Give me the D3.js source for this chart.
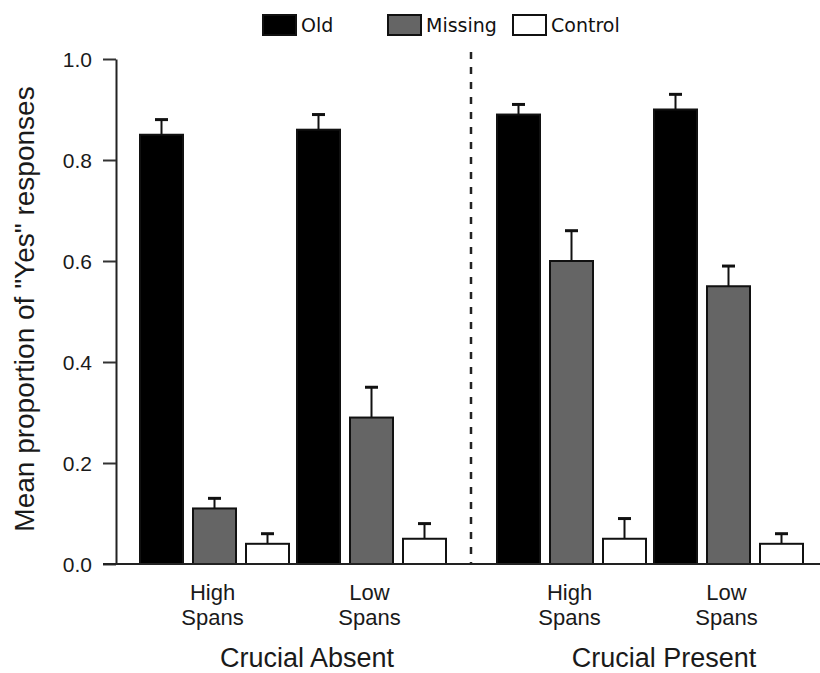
<!DOCTYPE html>
<html><head><meta charset="utf-8">
<script src="https://cdn.jsdelivr.net/npm/d3@7"></script>
<style>body{margin:0;background:#fff}svg{display:block}</style>
</head><body>
<script>
const conditions = ["Crucial Absent", "Crucial Present"];
const spans = ["High Spans", "Low Spans"];
const series = ["Old", "Missing", "Control"];
const colors = ["#000000", "#656565", "#ffffff"];
// order: Absent-High, Absent-Low, Present-High, Present-Low
const oldValues     = [0.85, 0.86, 0.89, 0.90];
const missingValues = [0.11, 0.29, 0.60, 0.55];
const controlValues = [0.04, 0.05, 0.05, 0.04];
const oldErrors     = [0.03, 0.03, 0.02, 0.03];
const missingErrors = [0.02, 0.06, 0.06, 0.04];
const controlErrors = [0.02, 0.03, 0.04, 0.02];
const yTicks = [0, 0.2, 0.4, 0.6, 0.8, 1.0];

const W = 820, H = 673;
const svg = d3.select("body").append("svg").attr("width", W).attr("height", H);
const FONT = "'Liberation Sans', Arial, Helvetica, sans-serif";

const y = d3.scaleLinear().domain([0, 1]).range([564, 59]);
const xCond = d3.scaleBand().domain(conditions).range([140, 803]).paddingInner(51/357).paddingOuter(0);
const xSpan = d3.scaleBand().domain(spans).range([0, xCond.bandwidth()]).paddingInner(8/157).paddingOuter(0);
const xSer = d3.scaleBand().domain(series).range([0, xSpan.bandwidth()]).paddingInner(10/53).paddingOuter(0);

const vals = [oldValues, missingValues, controlValues];
const errs = [oldErrors, missingErrors, controlErrors];
const data = [];
conditions.forEach((c, ci) => spans.forEach((s, si) => series.forEach((se, k) => {
  const idx = ci * 2 + si;
  data.push({c, s, se, k, v: vals[k][idx], e: errs[k][idx]});
})));

const xPos = d => xCond(d.c) + xSpan(d.s) + xSer(d.se);

// y axis
const yAxis = d3.axisLeft(y).tickValues(yTicks).tickFormat(d3.format(".1f")).tickSize(13).tickSizeOuter(0).tickPadding(11);
const ya = svg.append("g").attr("transform", "translate(116,0)").call(yAxis);
ya.select(".domain").attr("stroke", "#222").attr("stroke-width", 2);
ya.selectAll(".tick line").attr("stroke", "#333").attr("stroke-width", 2);
ya.selectAll(".tick text").attr("font-family", FONT).attr("font-size", 21).attr("fill", "#1a1a1a").attr("dy", "0.34em");

// dashed separator
const sepX = (xCond(conditions[0]) + xCond.bandwidth() + xCond(conditions[1])) / 2 - 0.5;
svg.append("line").attr("x1", sepX).attr("x2", sepX).attr("y1", 52).attr("y2", y(0))
  .attr("stroke", "#222").attr("stroke-width", 2.5).attr("stroke-dasharray", "7,8");

// bars
svg.append("g").selectAll("rect").data(data).join("rect")
  .attr("x", xPos).attr("width", xSer.bandwidth())
  .attr("y", d => y(d.v)).attr("height", d => y(0) - y(d.v))
  .attr("fill", d => colors[d.k]).attr("stroke", "#111").attr("stroke-width", 2);

// error bars
const eg = svg.append("g");
eg.selectAll("line.v").data(data).join("line").attr("class", "v")
  .attr("x1", d => xPos(d) + xSer.bandwidth()/2).attr("x2", d => xPos(d) + xSer.bandwidth()/2)
  .attr("y1", d => y(d.v)).attr("y2", d => y(d.v + d.e))
  .attr("stroke", "#111").attr("stroke-width", 2);
eg.selectAll("line.c").data(data).join("line").attr("class", "c")
  .attr("x1", d => xPos(d) + xSer.bandwidth()/2 - 6.5).attr("x2", d => xPos(d) + xSer.bandwidth()/2 + 6.5)
  .attr("y1", d => y(d.v + d.e)).attr("y2", d => y(d.v + d.e))
  .attr("stroke", "#111").attr("stroke-width", 3);

// x axis line
svg.append("line").attr("x1", 103).attr("x2", W).attr("y1", y(0)).attr("y2", y(0))
  .attr("stroke", "#222").attr("stroke-width", 2);

// span labels
const lab = svg.append("g").attr("font-family", FONT).attr("fill", "#1a1a1a").attr("text-anchor", "middle");
conditions.forEach(c => spans.forEach(s => {
  const cx = xCond(c) + xSpan(s) + xSpan.bandwidth()/2 - 2;
  const parts = s.split(" ");
  lab.append("text").attr("x", cx).attr("y", 600).attr("font-size", 22).text(parts[0]);
  lab.append("text").attr("x", cx).attr("y", 625).attr("font-size", 22).text(parts[1]);
}));
conditions.forEach(c => {
  lab.append("text").attr("x", xCond(c) + xCond.bandwidth()/2 + 14).attr("y", 667).attr("font-size", 27).text(c);
});

// y title
svg.append("text").attr("transform", "translate(34,309) rotate(-90)")
  .attr("text-anchor", "middle").attr("font-family", FONT)
  .attr("font-size", 28).attr("fill", "#1a1a1a").text('Mean proportion of "Yes" responses');

// legend
const legX = [263, 388, 513];
const lg = svg.append("g");
series.forEach((s, i) => {
  lg.append("rect").attr("x", legX[i]).attr("y", 15).attr("width", 33).attr("height", 20)
    .attr("fill", colors[i]).attr("stroke", "#111").attr("stroke-width", 2);
  lg.append("text").attr("x", legX[i] + 38).attr("y", 32).attr("font-family", "'DejaVu Sans', sans-serif")
    .attr("font-size", 19).attr("fill", "#111").text(s);
});
</script>
</body></html>
